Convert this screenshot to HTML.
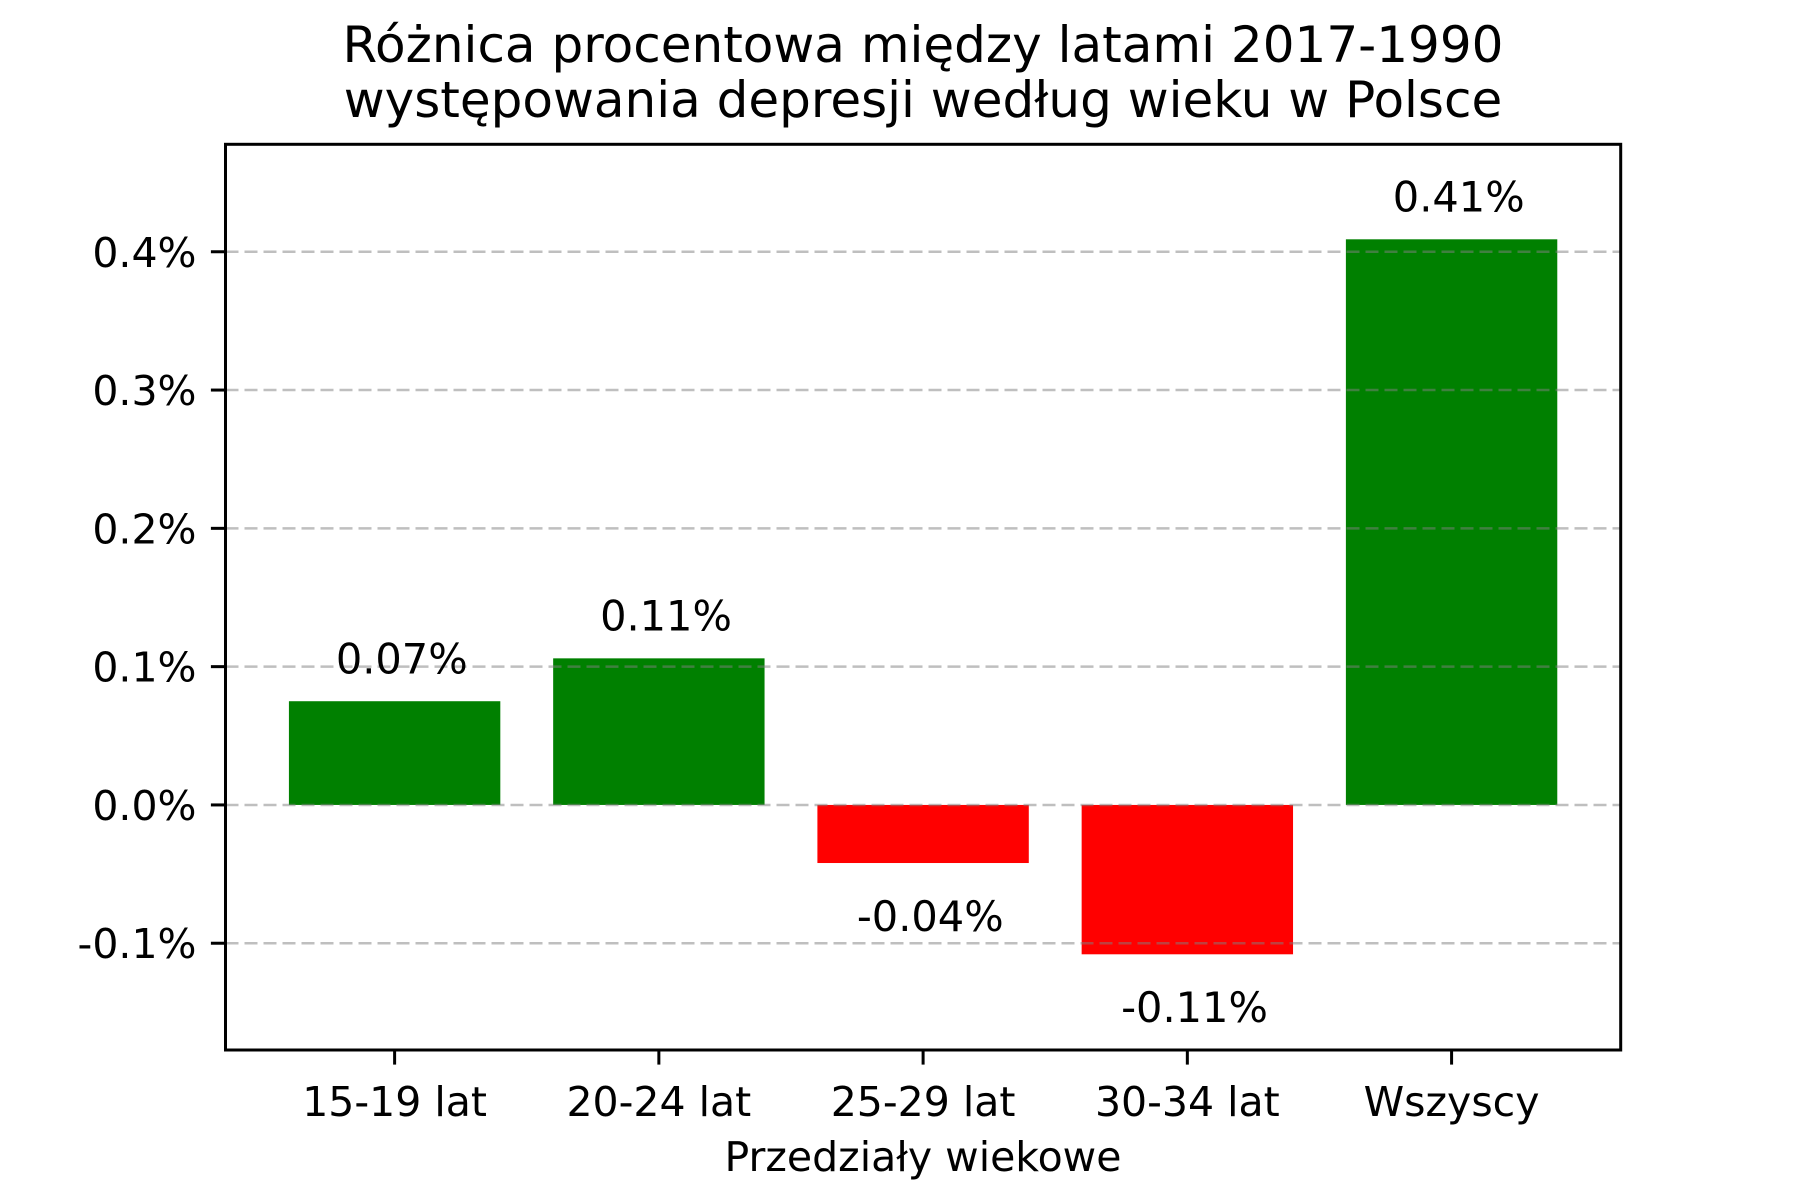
<!DOCTYPE html>
<html><head><meta charset="utf-8"><style>body{margin:0;background:#fff}svg{display:block;font-family:"DejaVu Sans","Liberation Sans",sans-serif}</style></head>
<body>
<svg id="chart" width="1800" height="1200" viewBox="0 0 1800 1200">
<rect width="1800" height="1200" fill="#fff"/>
<text x="923" y="62" font-size="50" text-anchor="middle">Różnica procentowa między latami 2017-1990</text>
<text x="923" y="117" font-size="50" text-anchor="middle">występowania depresji według wieku w Polsce</text>
<g id="bars"></g><g id="grid"></g><g id="labels"></g><g id="axes"></g>
<text x="923" y="1171" font-size="41" text-anchor="middle">Przedziały wiekowe</text>
</svg>
<script>
const categories = ["15-19 lat","20-24 lat","25-29 lat","30-34 lat","Wszyscy"];
const values = [0.075, 0.106, -0.042, -0.108, 0.409];
const valueLabels = ["0.07%","0.11%","-0.04%","-0.11%","0.41%"];
const yTicks = [-0.1, 0.0, 0.1, 0.2, 0.3, 0.4];
const yTickLabels = ["-0.1%","0.0%","0.1%","0.2%","0.3%","0.4%"];

const L=225.5,R=1620.7,T=144.3,B=1050;
const xMin=-0.64,xMax=4.64,yMin=-0.1772,yMax=0.4777;
const X=v=>L+(v-xMin)/(xMax-xMin)*(R-L);
const Y=v=>B-(v-yMin)/(yMax-yMin)*(B-T);
const NS="http://www.w3.org/2000/svg";
function mk(tag,attrs,parent,txt){const e=document.createElementNS(NS,tag);for(const k in attrs)e.setAttribute(k,attrs[k]);if(txt!==undefined)e.textContent=txt;document.getElementById(parent).appendChild(e);return e;}
values.forEach((v,i)=>{
  const r=mk('rect',{x:X(i-0.4),width:X(i+0.4)-X(i-0.4),y:Math.min(Y(v),Y(0)),height:Math.abs(Y(v)-Y(0)),fill:v>=0?'#008000':'#ff0000'},'bars');
  
  
  const t=mk('text',{x:X(i+0.027),y:v>=0?Y(v+0.02):Y(v-0.049),'font-size':41.5,'text-anchor':'middle'},'labels',valueLabels[i]);
  
  
  const tk=mk('line',{x1:X(i),x2:X(i),y1:B,y2:B+14.6,stroke:'#000','stroke-width':3},'axes');
  
  
  const tl=mk('text',{x:X(i),y:B+66,'font-size':41,'text-anchor':'middle'},'axes',categories[i]);
  
  
});
yTicks.forEach((v,i)=>{
  const g=mk('line',{x1:L,x2:R,y1:Y(v),y2:Y(v),stroke:'#808080','stroke-opacity':0.5,'stroke-width':2.5,'stroke-dasharray':'13 6'},'grid');
  
  
  const tk=mk('line',{x1:L-14.6,x2:L,y1:Y(v),y2:Y(v),stroke:'#000','stroke-width':3},'axes');
  
  
  const tl=mk('text',{x:L-29,y:Y(v)+15,'font-size':41,'text-anchor':'end'},'axes',yTickLabels[i]);
  
  
});
const fr=mk('rect',{x:L,y:T,width:R-L,height:B-T,fill:'none',stroke:'#000','stroke-width':3},'axes');


</script>
</body></html>
